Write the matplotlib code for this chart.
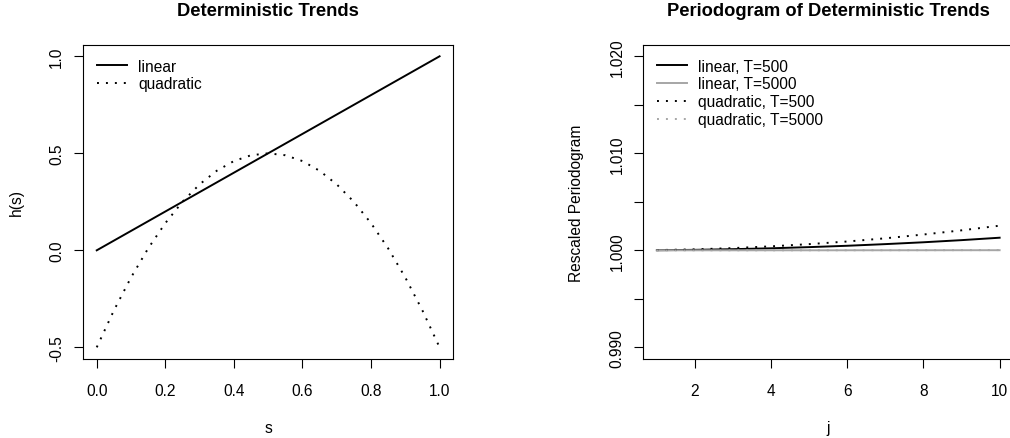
import matplotlib
matplotlib.use("Agg")
import matplotlib.pyplot as plt

plt.rcParams['font.family'] = ['Liberation Sans', 'DejaVu Sans']

# ---- left panel data ----
s_grid = [0.00, 0.05, 0.10, 0.15, 0.20, 0.25, 0.30, 0.35, 0.40, 0.45, 0.50,
          0.55, 0.60, 0.65, 0.70, 0.75, 0.80, 0.85, 0.90, 0.95, 1.00]
h_linear = [0.00, 0.05, 0.10, 0.15, 0.20, 0.25, 0.30, 0.35, 0.40, 0.45, 0.50,
            0.55, 0.60, 0.65, 0.70, 0.75, 0.80, 0.85, 0.90, 0.95, 1.00]
h_quadratic = [-0.50, -0.31, -0.14, 0.01, 0.14, 0.25, 0.34, 0.41, 0.46, 0.49, 0.50,
               0.49, 0.46, 0.41, 0.34, 0.25, 0.14, 0.01, -0.14, -0.31, -0.50]
left_labels = ["linear", "quadratic"]
left_xticks = [0.0, 0.2, 0.4, 0.6, 0.8, 1.0]
left_yticks = [-0.5, 0.0, 0.5, 1.0]

# ---- right panel data ----
j_vals = [1, 2, 3, 4, 5, 6, 7, 8, 9, 10]
per_lin_500 = [1.00001, 1.00005, 1.00012, 1.00021, 1.00033, 1.00047, 1.00064, 1.00083, 1.00105, 1.00130]
per_lin_5000 = [1.000000, 1.000001, 1.000001, 1.000002, 1.000003, 1.000005, 1.000006, 1.000008, 1.000011, 1.000013]
per_quad_500 = [1.000025, 1.00010, 1.00023, 1.00041, 1.00064, 1.00091, 1.00124, 1.00163, 1.00206, 1.00254]
per_quad_5000 = [1.0000003, 1.000001, 1.000002, 1.000004, 1.000006, 1.000009, 1.000012, 1.000016, 1.000021, 1.000025]
right_labels = ["linear, T=500", "linear, T=5000", "quadratic, T=500", "quadratic, T=5000"]
right_xticks = [2, 4, 6, 8, 10]
right_yticks = [0.990, 0.995, 1.000, 1.005, 1.010, 1.015, 1.020]
right_yticklabels = ["0.990", "", "1.000", "", "1.010", "", "1.020"]

GREY = "#a6a6a6"
FS = 11.2
TFS = 13.2
LW = 1.4
DOT = (0, (1, 3.6))

fig = plt.figure(figsize=(10.10, 4.39), dpi=100)
ax1 = fig.add_axes([0.0822, 0.18, 0.3666, 0.716])
ax2 = fig.add_axes([0.6368, 0.18, 0.3665, 0.716])


def style(ax):
    for sp in ax.spines.values():
        sp.set_linewidth(0.8)
        sp.set_color("black")
    ax.tick_params(axis='both', direction='out', length=6.5, width=0.8,
                   labelsize=FS, colors='black')
    ax.tick_params(axis='x', pad=10.5)
    ax.tick_params(axis='y', pad=7, labelrotation=90)
    for lbl in ax.get_yticklabels():
        lbl.set_va('center')


def rlim(lo, hi):
    d = (hi - lo) * 0.04
    return lo - d, hi + d


legend_kw = dict(loc='upper left', frameon=False, fontsize=FS, handlelength=1.9,
                 handletextpad=0.75, borderpad=0.4, borderaxespad=0.5, labelspacing=0.18)

# left panel
ax1.plot(s_grid, h_linear, color='black', lw=LW, label=left_labels[0])
ax1.plot(s_grid, h_quadratic, color='black', lw=LW, linestyle=DOT, label=left_labels[1])
ax1.set_xlim(*rlim(0, 1))
ax1.set_ylim(*rlim(-0.5, 1.0))
ax1.set_xticks(left_xticks)
ax1.set_xticklabels([f"{v:.1f}" for v in left_xticks])
ax1.set_yticks(left_yticks)
ax1.set_yticklabels([f"{v:.1f}" for v in left_yticks])
style(ax1)
ax1.set_title("Deterministic Trends", fontsize=TFS, fontweight='bold', pad=21)
ax1.set_xlabel("s", fontsize=FS, labelpad=16)
ax1.set_ylabel("h(s)", fontsize=FS, labelpad=18)
ax1.legend(**legend_kw)

# right panel
ax2.plot(j_vals, per_lin_500, color='black', lw=LW, label=right_labels[0])
ax2.plot(j_vals, per_lin_5000, color=GREY, lw=LW, label=right_labels[1])
ax2.plot(j_vals, per_quad_500, color='black', lw=LW, linestyle=DOT, label=right_labels[2])
ax2.plot(j_vals, per_quad_5000, color=GREY, lw=LW, linestyle=DOT, label=right_labels[3])
ax2.set_xlim(*rlim(1, 10))
ax2.set_ylim(*rlim(0.99, 1.02))
ax2.set_xticks(right_xticks)
ax2.set_xticklabels([str(v) for v in right_xticks])
ax2.set_yticks(right_yticks)
ax2.set_yticklabels(right_yticklabels)
style(ax2)
ax2.set_title("Periodogram of Deterministic Trends", fontsize=TFS, fontweight='bold', pad=21)
ax2.set_xlabel("j", fontsize=FS, labelpad=16)
ax2.set_ylabel("Rescaled Periodogram", fontsize=FS, labelpad=18)
ax2.legend(**legend_kw)

fig.savefig("out.png", dpi=100)
